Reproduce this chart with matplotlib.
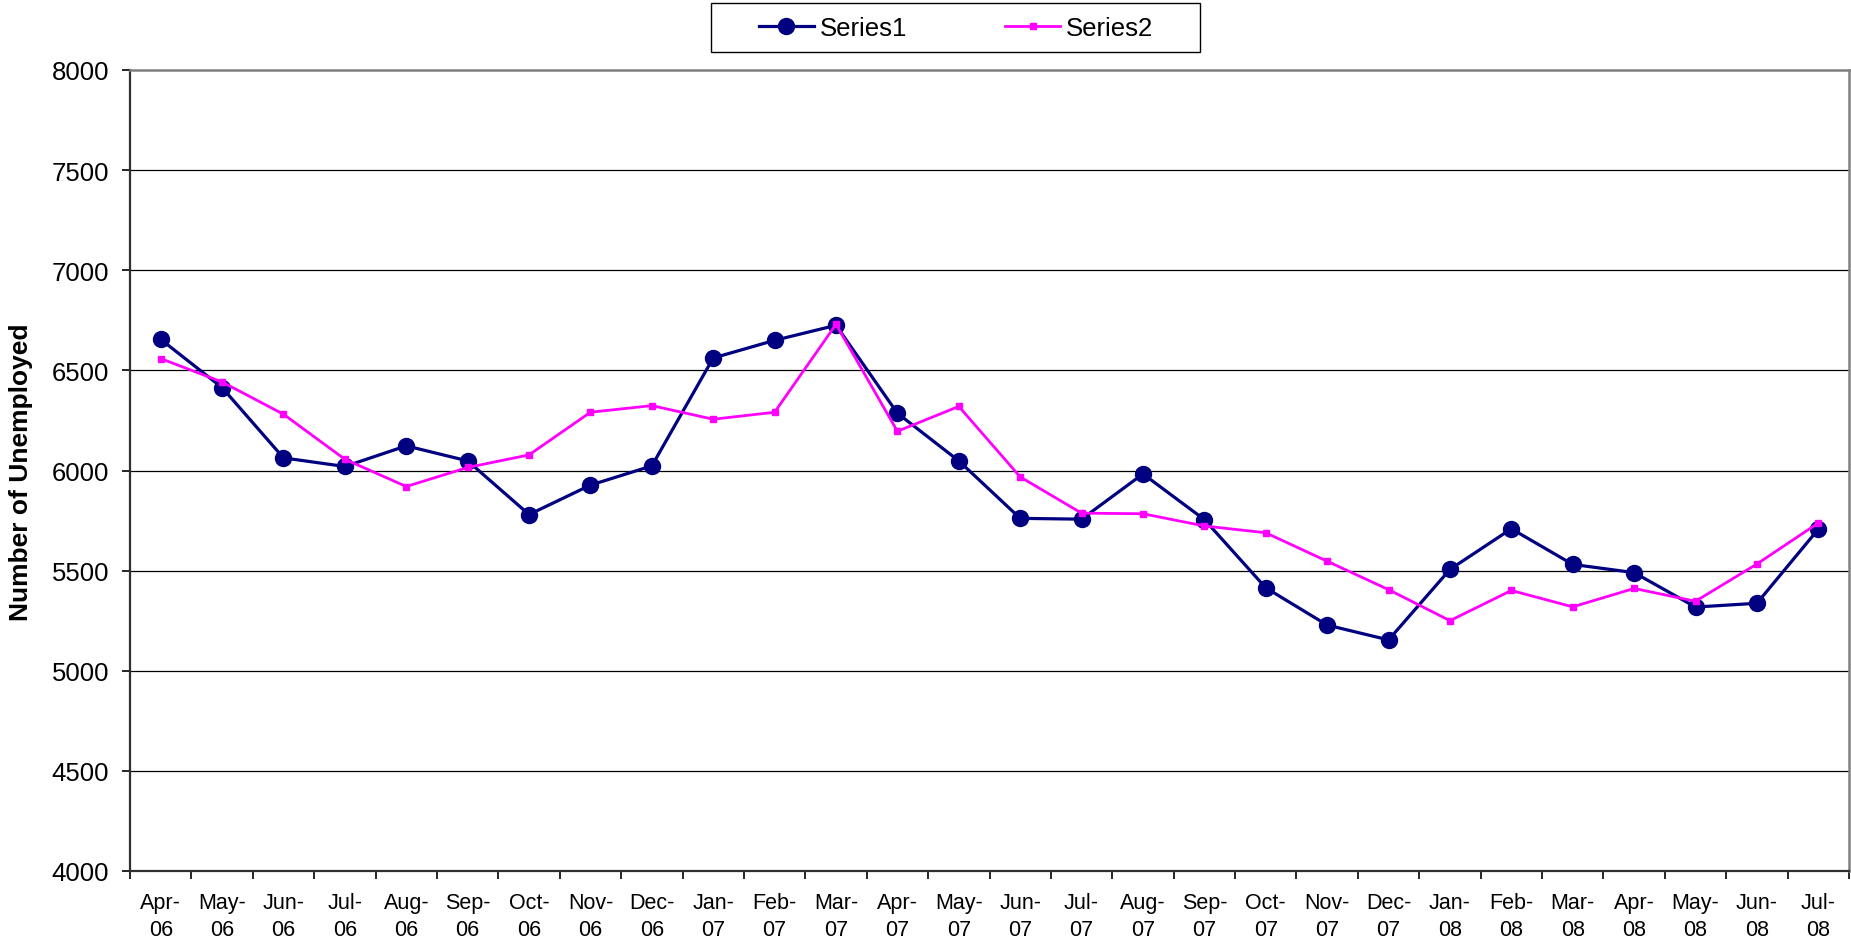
import numpy as np
import matplotlib
matplotlib.use('Agg')
import matplotlib.pyplot as plt
from matplotlib.patches import Rectangle

plt.rcParams['font.family'] = ['Liberation Sans', 'DejaVu Sans']

months = ['Apr-\n06', 'May-\n06', 'Jun-\n06', 'Jul-\n06', 'Aug-\n06', 'Sep-\n06',
          'Oct-\n06', 'Nov-\n06', 'Dec-\n06', 'Jan-\n07', 'Feb-\n07', 'Mar-\n07',
          'Apr-\n07', 'May-\n07', 'Jun-\n07', 'Jul-\n07', 'Aug-\n07', 'Sep-\n07',
          'Oct-\n07', 'Nov-\n07', 'Dec-\n07', 'Jan-\n08', 'Feb-\n08', 'Mar-\n08',
          'Apr-\n08', 'May-\n08', 'Jun-\n08', 'Jul-\n08']

series1 = [6655, 6414, 6063, 6020, 6123, 6048, 5780, 5927, 6023, 6562, 6650, 6725,
           6286, 6048, 5761, 5757, 5983, 5755, 5414, 5228, 5154, 5506, 5709, 5531,
           5490, 5318, 5337, 5707]
series2 = [6559, 6442, 6281, 6056, 5920, 6015, 6078, 6291, 6324, 6256, 6291, 6730,
           6196, 6320, 5968, 5787, 5784, 5723, 5689, 5547, 5405, 5250, 5401, 5319,
           5411, 5347, 5533, 5738]

yticks = [4000, 4500, 5000, 5500, 6000, 6500, 7000, 7500, 8000]

W, H = 1851, 945
fig = plt.figure(figsize=(W / 100, H / 100), dpi=100)
ax = fig.add_axes([130 / W, 1 - 872 / H, (1849 - 130) / W, (872 - 71) / H])

x = np.arange(len(months)) + 0.5

# grid first so lines sit on top
for v in yticks[1:-1]:
    ax.axhline(v, color='black', lw=0.9, zorder=1)

ax.plot(x, series1, color='#000080', lw=2.3, marker='o', markersize=11.5,
        label='Series1', zorder=3)
ax.plot(x, series2, color='#FF00FF', lw=2.0, marker='s', markersize=4.5,
        label='Series2', zorder=4)

ax.set_xlim(0, len(months))
ax.set_ylim(4000, 8000)
ax.set_yticks(yticks)
ax.set_yticklabels([str(v) for v in yticks], fontsize=18.5)
ax.tick_params(axis='y', direction='out', length=6, width=1.2, pad=9)

# ticks between categories, labels in the middle
ax.set_xticks(np.arange(0, len(months) + 1))
ax.set_xticklabels([])
ax.set_xticks(x, minor=True)
ax.set_xticklabels(months, minor=True, fontsize=15.5, linespacing=1.4)
ax.tick_params(axis='x', which='major', direction='out', length=6, width=1.2)
ax.tick_params(axis='x', which='minor', length=0, pad=15)

for s in ['left', 'bottom']:
    ax.spines[s].set_color('#303030')
    ax.spines[s].set_linewidth(1.6)
for s in ['top', 'right']:
    ax.spines[s].set_color('#808080')
    ax.spines[s].set_linewidth(1.8)

fig.text(21 / W, 1 - 472 / H, 'Number of Unemployed', rotation=90,
         ha='center', va='center', fontsize=19, fontweight='bold')

leg = fig.legend(loc='center', bbox_to_anchor=(956 / W, 1 - 29 / H),
                 ncol=2, fontsize=18.5, frameon=False,
                 handlelength=2.12, columnspacing=3.84, borderpad=0.3,
                 handletextpad=0.22)
fig.add_artist(Rectangle((711 / W, 1 - 53 / H), (1200 - 711) / W, 49 / H,
                         transform=fig.transFigure, fill=False,
                         edgecolor='black', lw=1.0))

fig.savefig('out.png', dpi=100)
